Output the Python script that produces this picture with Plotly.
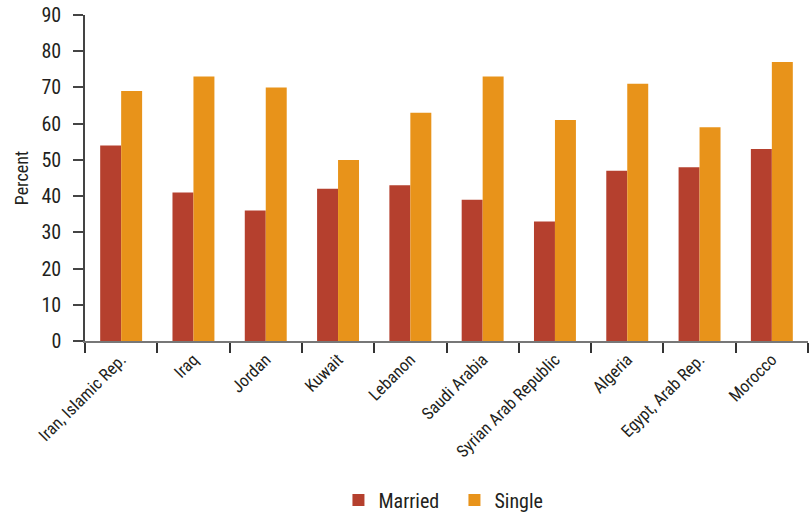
import plotly.graph_objects as go

countries = ["Iran, Islamic Rep.", "Iraq", "Jordan", "Kuwait", "Lebanon", "Saudi Arabia",
             "Syrian Arab Republic", "Algeria", "Egypt, Arab Rep.", "Morocco"]
married = [54, 41, 36, 42, 43, 39, 33, 47, 48, 53]
single = [69, 73, 70, 50, 63, 73, 61, 71, 59, 77]
y_ticks = [0, 10, 20, 30, 40, 50, 60, 70, 80, 90]

FONT = "Roboto Condensed"
TXT = "#231f20"

fig = go.Figure()
fig.add_trace(go.Bar(x=countries, y=married, name="Married", marker_color="#B5402E",
                     marker_line_width=0))
fig.add_trace(go.Bar(x=countries, y=single, name="Single", marker_color="#E8931A",
                     marker_line_width=0))

fig.update_layout(
    width=809, height=514,
    margin=dict(l=85, r=1, t=15, b=173, autoexpand=False),
    paper_bgcolor="white", plot_bgcolor="white",
    barmode="group", bargap=0.42, bargroupgap=0,
    font=dict(family=FONT, color=TXT, size=18),
    showlegend=True,
    legend=dict(orientation="h", xref="paper", x=0.511, xanchor="center",
                yref="container", y=0.027, yanchor="middle",
                font=dict(size=20, family=FONT, color=TXT),
                entrywidth=71, entrywidthmode="pixels",
                traceorder="normal"),
)
fig.update_xaxes(
    showline=True, linecolor="#777777", linewidth=2, automargin=False,
    ticks="outside", tickson="boundaries", ticklen=10, tickcolor="#333333", tickwidth=1.5,
    tickangle=-45, tickfont=dict(size=17, family=FONT, color=TXT),
    showgrid=False,
)
fig.update_yaxes(
    range=[0, 90], tickvals=y_ticks, showline=True, linecolor="#444444", linewidth=1.5,
    automargin=False, ticklabelstandoff=8, ticklabeloverflow="allow",
    ticks="outside", ticklen=10, tickcolor="#444444", tickwidth=1.5,
    tickfont=dict(size=20, family=FONT, color=TXT), showgrid=False, zeroline=False,
    title=dict(text="Percent", font=dict(size=18, family=FONT, color=TXT), standoff=8),
)

# remove the default 8px page margin so the figure fills the window exactly
fig.write_html("out.html", config={"displayModeBar": False},
               post_script="document.body.style.margin='0';")
